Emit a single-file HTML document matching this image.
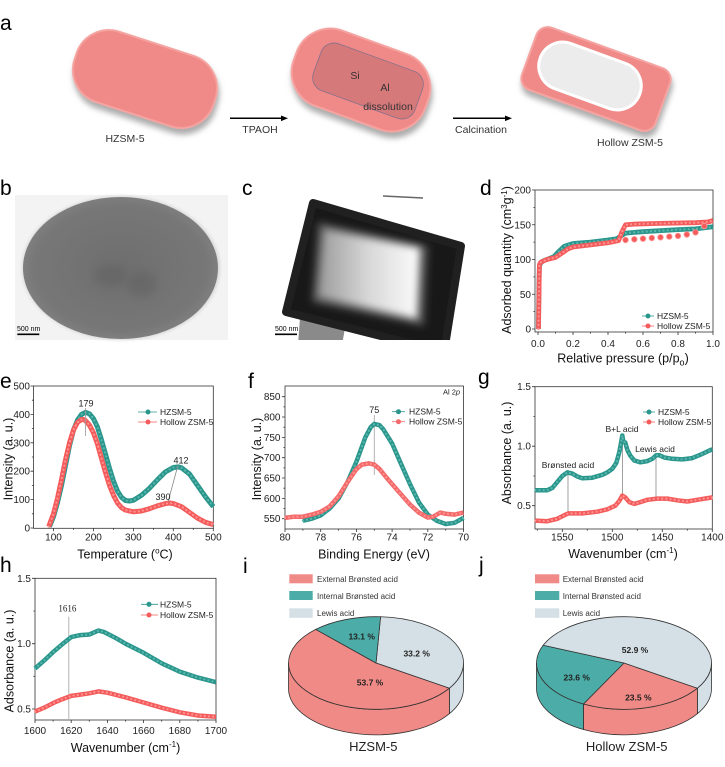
<!DOCTYPE html>
<html><head><meta charset="utf-8">
<style>
html,body{margin:0;padding:0;background:#fff;}
body{width:725px;height:767px;overflow:hidden;}
svg{display:block;font-family:"Liberation Sans",Arial,sans-serif;}
.tl{fill:none;stroke:#2a968c;stroke-width:4.8;stroke-linejoin:round;}
.rl{fill:none;stroke:#f45c5c;stroke-width:4.8;stroke-linejoin:round;}
.tb{fill:none;stroke:#5cb8ae;stroke-width:2.2;stroke-dasharray:0 4.2;stroke-linecap:round;}
.rb{fill:none;stroke:#ff9494;stroke-width:2.2;stroke-dasharray:0 4.2;stroke-linecap:round;}
</style></head>
<body>
<svg width="725" height="767" viewBox="0 0 725 767" xmlns="http://www.w3.org/2000/svg" xmlns:xlink="http://www.w3.org/1999/xlink">
<defs>
 <filter id="sh" x="-20%" y="-20%" width="150%" height="160%">
  <feDropShadow dx="3" dy="5" stdDeviation="3" flood-color="#666" flood-opacity="0.55"/>
 </filter>
 <filter id="bl" x="-30%" y="-30%" width="160%" height="160%"><feGaussianBlur stdDeviation="4"/></filter>
 <filter id="bl2" x="-30%" y="-30%" width="160%" height="160%"><feGaussianBlur stdDeviation="1.5"/></filter>
 <radialGradient id="gb" cx="50%" cy="50%" r="55%">
  <stop offset="0" stop-color="#6e6e6e"/><stop offset="0.8" stop-color="#777"/><stop offset="1" stop-color="#858585"/>
 </radialGradient>
 <linearGradient id="gc" x1="0" y1="0" x2="1" y2="0">
  <stop offset="0" stop-color="#9a9a9a"/><stop offset="0.5" stop-color="#d8d8d8"/><stop offset="1" stop-color="#fcfcfc"/>
 </linearGradient>
 <clipPath id="cc"><rect x="277" y="195" width="190" height="145"/></clipPath>
 <polyline id="d1" points="538.5,329 538.9,287.3 539.4,266.5 540.6,263 543.3,260.9 548.5,258.8 553.8,256.7 559,251.2 564.3,246.3 573,243.5 590.5,242.1 608,240 616.8,238.7 622,235.2 625.5,233.1 643,231.7 678,229.6 695.5,228.9 713,226.8"/>
 <polyline id="d2" points="538.5,329 539.4,265 540.6,262.3 546.8,259.5 555.5,257.4 560.8,253.9 567.8,249 573,247 590.5,244.9 608,242.8 618.5,240.7 622,231.7 625.5,224.8 634.3,224.1 660.5,223.4 695.5,222.7 707.8,222 713,220.6"/>
 <polyline id="e1" points="49.5,526.6 53.5,516.6 57.5,502.4 61.5,485.4 65.5,465.5 69.5,445.6 73.5,430 77.5,420.1 81.5,414.4 85.5,412.4 89.5,413.8 93.5,418.7 97.5,427.2 101.5,440 105.5,454.2 109.5,468.4 113.5,481.1 117.5,491.1 121.5,497.3 125.5,500.5 129.5,501 133.5,500.2 141.5,495.3 149.5,488.2 157.5,479.7 165.5,471.8 173.5,467.5 178.3,466.9 181.5,467.8 189.5,474 197.5,485.4 205.5,496.8 213.3,506.7"/>
 <polyline id="e2" points="48.7,526.6 53.5,513.8 57.5,498.2 61.5,479.7 65.5,459.8 69.5,442.8 73.5,430 77.5,422.4 81.5,419.5 83.5,419.5 85.5,420.6 89.5,425.2 93.5,432.9 97.5,444.2 101.5,458.4 105.5,472.6 109.5,485.4 113.5,495.3 117.5,503 121.5,507.6 125.5,510.1 133.5,511.8 141.5,511 149.5,508.7 157.5,505.8 165.5,503.6 169.5,503 173.5,503.6 181.5,506.7 189.5,512.4 197.5,518.1 205.5,522.3 213.3,524.6"/>
 <polyline id="f1" points="302.9,520.7 311.8,518.7 320.7,515.4 329.6,508.5 338.6,498.4 347.5,482.1 356.4,461.8 365.3,437.4 370.7,427.2 374.3,423.9 379.6,425.2 383.2,429.2 392.1,443.5 401,463.8 410,484.1 418.9,502.4 427.8,514.6 436.7,520.7 445.7,524 454.6,522.8 463.5,517.9"/>
 <polyline id="f2" points="285,517.9 293.9,516.7 302.9,516.7 311.8,514.6 320.7,511.8 329.6,506.5 338.6,496.3 347.5,482.1 356.4,469.1 361.8,464.6 368.9,463.4 374.3,464.6 379.6,469.1 386.8,478 392.1,484.1 401,494.3 410,504.5 418.9,512.6 427.8,517.5 433.2,516.7 440.3,512.6 445.7,513.8 454.6,514.6 463.5,512.6"/>
 <polyline id="g1" points="535.3,490.2 547.3,490.2 552.3,487.9 557.3,481.9 562.3,476 567.3,472.4 572.3,473.6 577.3,476.5 582.3,478.3 592.3,477.7 602.3,474.8 607.3,472.4 612.3,468.8 616.3,462.9 619.3,452.2 621.3,441.4 622.3,435.5 623.3,441.4 625.3,442.6 627.3,449.8 630.3,455.7 634.3,460.5 640.3,462.3 647.3,461.1 652.3,458.8 656.3,455.2 659.3,455.2 664.3,457.5 672.3,458.8 682.3,459.4 692.3,458.1 702.3,453.9 712.3,449.2"/>
 <polyline id="g2" points="535.3,520.6 547.3,521.2 557.3,518.8 564.3,515.2 568.3,513.4 582.3,513.4 597.3,511.7 607.3,509.3 615.3,505.7 619.3,500.9 622.3,495.6 625.3,497.4 629.3,502.1 634.3,503.9 640.3,502.1 647.3,499.8 657.3,498.6 667.3,498.6 677.3,500.3 687.3,501.5 697.3,499.8 712.3,497.4"/>
 <polyline id="h1" points="35,668.5 44.1,660.6 53.1,652.1 62.2,644.3 71.2,637.1 80.3,635.1 89.3,634.5 98.4,630.6 103.8,631.9 116.5,638.4 125.5,643.7 143.6,652.8 161.7,663.3 179.8,671.7 197.9,677.6 216,682.2"/>
 <polyline id="h2" points="35,711.6 44.1,707.7 53.1,703.1 62.2,699.2 71.2,695.9 80.3,694.6 89.3,693.3 98.4,691.4 107.4,692.7 125.5,697.3 143.6,702.5 161.7,707.7 179.8,712.3 197.9,715.5 216,716.8"/>
</defs>
<rect width="725" height="767" fill="#fff"/>

<!-- ============ panel a ============ -->
<text x="0" y="30" font-size="21">a</text>
<rect x="-73" y="-37" width="146" height="74" rx="34" transform="translate(145,79) rotate(18)" fill="#f08a88" stroke="#f5a3a0" stroke-width="2" filter="url(#sh)"/>
<rect x="-70" y="-40" width="140" height="80" rx="36" transform="translate(361,80) rotate(20)" fill="#f08a88" stroke="#f5a3a0" stroke-width="2" filter="url(#sh)"/>
<rect x="-54" y="-25" width="108" height="50" rx="14" transform="translate(368,81) rotate(20)" fill="#d6797b" stroke="#86708a" stroke-width="0.8"/>
<rect x="-71" y="-33" width="142" height="66" rx="12" transform="translate(596,79) rotate(20)" fill="#f08a88" stroke="#f5a3a0" stroke-width="2" filter="url(#sh)"/>
<rect x="-53" y="-24" width="106" height="48" rx="24" transform="translate(590,76) rotate(20)" fill="#ececec" stroke="#fff" stroke-width="3"/>
<g font-size="10.5" fill="#333" text-anchor="middle">
 <text x="125" y="142">HZSM-5</text>
 <text x="260" y="133">TPAOH</text>
 <text x="481" y="133">Calcination</text>
 <text x="630" y="146">Hollow ZSM-5</text>
 <text x="355" y="79">Si</text>
 <text x="385" y="91">Al</text>
 <text x="388" y="110">dissolution</text>
</g>
<line x1="230" y1="118.3" x2="283" y2="118.3" stroke="#000" stroke-width="1.5"/>
<polygon points="288,118.3 281,115.5 281,121.1" fill="#000"/>
<line x1="453" y1="118.3" x2="507" y2="118.3" stroke="#000" stroke-width="1.5"/>
<polygon points="512,118.3 505,115.5 505,121.1" fill="#000"/>

<!-- ============ panel b ============ -->
<text x="0" y="195" font-size="21">b</text>
<rect x="15" y="195" width="213" height="145" fill="#f3f3f3"/>
<ellipse cx="121" cy="268" rx="99" ry="72" fill="#d8d8d8" filter="url(#bl2)"/>
<ellipse cx="120.5" cy="268" rx="97.5" ry="71" fill="url(#gb)"/>
<ellipse cx="110" cy="276" rx="16" ry="11" fill="#5f5f5f" opacity="0.45" filter="url(#bl)"/>
<ellipse cx="142" cy="284" rx="15" ry="13" fill="#5f5f5f" opacity="0.45" filter="url(#bl)"/>
<text x="17" y="331" font-size="7" fill="#000">500 nm</text>
<line x1="17.3" y1="334.3" x2="39.3" y2="334.3" stroke="#000" stroke-width="1.6"/>

<!-- ============ panel c ============ -->
<text x="242" y="195" font-size="21">c</text>
<g clip-path="url(#cc)">
 <rect x="277" y="195" width="190" height="145" fill="#fff"/>
 <polygon points="300,318 345,328 342,345 298,345" fill="#8a8a8a"/>
 <polygon points="313,203 461,246 444,352 286,312" fill="#181818" stroke="#202020" stroke-width="8" stroke-linejoin="round"/>
 <polygon points="318,222 428,246 424,326 312,302" fill="#555" filter="url(#bl)"/>
 <polygon points="324,229 420,248 417,319 318,297" fill="url(#gc)" filter="url(#bl)"/>
 <line x1="383" y1="196" x2="423" y2="198" stroke="#666" stroke-width="1.5"/>
</g>
<text x="275" y="331" font-size="7" fill="#000">500 nm</text>
<line x1="275" y1="334.3" x2="297" y2="334.3" stroke="#000" stroke-width="1.6"/>

<!-- ============ panel d ============ -->
<text x="480" y="195" font-size="21">d</text>
<g stroke="#333" stroke-width="0.8" fill="none">
 <rect x="535" y="190" width="178" height="142"/>
 <path d="M535 329h-3M535 294.25h-3M535 259.5h-3M535 224.75h-3M535 190h-3M535 311.6h-1.6M535 276.9h-1.6M535 242.1h-1.6M535 207.4h-1.6"/>
 <path d="M538 332v3M573 332v3M608 332v3M643 332v3M678 332v3M713 332v3M555.5 332v1.6M590.5 332v1.6M625.5 332v1.6M660.5 332v1.6M695.5 332v1.6"/>
</g>
<g font-size="10" fill="#222" text-anchor="end">
 <text x="531" y="332.5">0</text><text x="531" y="297.8">50</text><text x="531" y="263">100</text><text x="531" y="228.3">150</text><text x="531" y="193.5">200</text>
</g>
<g font-size="10" fill="#222" text-anchor="middle">
 <text x="538" y="347">0.0</text><text x="573" y="347">0.2</text><text x="608" y="347">0.4</text><text x="643" y="347">0.6</text><text x="678" y="347">0.8</text><text x="713" y="347">1.0</text>
</g>
<text x="623" y="362.5" font-size="12.5" text-anchor="middle" fill="#111">Relative pressure (p/p<tspan font-size="9" dy="3">o</tspan><tspan dy="-3">)</tspan></text>
<text transform="translate(511,260) rotate(-90)" font-size="12.5" text-anchor="middle" fill="#111">Adsorbed quantity (cm<tspan font-size="8" dy="-4">3</tspan><tspan dy="4">g</tspan><tspan font-size="8" dy="-4">-1</tspan><tspan dy="4">)</tspan></text>
<use xlink:href="#d1" class="tl"/><use xlink:href="#d1" class="tb"/>
<use xlink:href="#d2" class="rl"/><use xlink:href="#d2" class="rb"/>
<g fill="#f45c5c" stroke="#ff9a9a" stroke-width="0.8">
 <circle cx="625.5" cy="240" r="2.8"/><circle cx="634.3" cy="239.3" r="2.8"/><circle cx="643" cy="238.7" r="2.8"/><circle cx="651.8" cy="238" r="2.8"/><circle cx="660.5" cy="237.3" r="2.8"/><circle cx="669.3" cy="236.6" r="2.8"/><circle cx="678" cy="235.9" r="2.8"/><circle cx="686.8" cy="234.5" r="2.8"/><circle cx="695.5" cy="232.4" r="2.8"/><circle cx="704.3" cy="226.1" r="2.8"/>
</g>
<line x1="642" y1="316" x2="654" y2="316" stroke="#2a968c" stroke-width="0.8"/><circle cx="648" cy="316" r="2.5" fill="#2a968c"/>
<line x1="642" y1="326" x2="654" y2="326" stroke="#f45c5c" stroke-width="0.8"/><circle cx="648" cy="326" r="2.5" fill="#f45c5c"/>
<text x="657" y="319" font-size="8.5" fill="#222">HZSM-5</text>
<text x="657" y="329" font-size="8.5" fill="#222">Hollow ZSM-5</text>

<!-- ============ panel e ============ -->
<text x="0" y="388" font-size="21">e</text>
<g stroke="#333" stroke-width="0.8" fill="none">
 <rect x="33.5" y="386" width="179.8" height="142.3"/>
 <path d="M33.5 528h-3M33.5 499.6h-3M33.5 471.2h-3M33.5 442.8h-3M33.5 414.4h-3M33.5 386h-3M33.5 513.8h-1.6M33.5 485.4h-1.6M33.5 457h-1.6M33.5 428.6h-1.6M33.5 400.2h-1.6"/>
 <path d="M53.5 528.3v3M93.5 528.3v3M133.4 528.3v3M173.3 528.3v3M213.3 528.3v3M73.5 528.3v1.6M113.5 528.3v1.6M153.4 528.3v1.6M193.3 528.3v1.6"/>
</g>
<g font-size="10" fill="#222" text-anchor="end">
 <text x="30" y="531.5">0</text><text x="30" y="503.1">100</text><text x="30" y="474.7">200</text><text x="30" y="446.3">300</text><text x="30" y="417.9">400</text><text x="30" y="389.5">500</text>
</g>
<g font-size="10" fill="#222" text-anchor="middle">
 <text x="53.5" y="540.5">100</text><text x="93.5" y="540.5">200</text><text x="133.4" y="540.5">300</text><text x="173.3" y="540.5">400</text><text x="213.3" y="540.5">500</text>
</g>
<text x="125" y="558.5" font-size="12.5" text-anchor="middle" fill="#111">Temperature (<tspan font-size="8" dy="-5">o</tspan><tspan dy="5">C)</tspan></text>
<text transform="translate(12.5,459) rotate(-90)" font-size="12.5" text-anchor="middle" fill="#111">Intensity (a. u.)</text>
<use xlink:href="#e1" class="tl" style="stroke-width:5"/><use xlink:href="#e1" class="tb"/>
<use xlink:href="#e2" class="rl" style="stroke-width:5"/><use xlink:href="#e2" class="rb"/>
<line x1="85.5" y1="408" x2="85.5" y2="436" stroke="#999" stroke-width="0.8"/>
<line x1="178" y1="465" x2="168" y2="502" stroke="#888" stroke-width="0.8"/>
<g font-size="9" fill="#222" text-anchor="middle">
 <text x="86" y="406.5">179</text><text x="181" y="463.5">412</text><text x="163" y="500">390</text>
</g>
<line x1="138" y1="412" x2="157" y2="412" stroke="#2a968c" stroke-width="0.8"/><circle cx="148" cy="412" r="2.5" fill="#2a968c"/>
<line x1="138" y1="422" x2="157" y2="422" stroke="#f45c5c" stroke-width="0.8"/><circle cx="148" cy="422" r="2.5" fill="#f45c5c"/>
<text x="160" y="415" font-size="8.5" fill="#222">HZSM-5</text>
<text x="160" y="425" font-size="8.5" fill="#222">Hollow ZSM-5</text>

<!-- ============ panel f ============ -->
<text x="248" y="388" font-size="21">f</text>
<g stroke="#333" stroke-width="0.8" fill="none">
 <rect x="285" y="386" width="178.5" height="143"/>
 <path d="M285 518.7h-3M285 498.4h-3M285 478h-3M285 457.7h-3M285 437.4h-3M285 417h-3M285 396.7h-3M285 508.5h-1.6M285 488.2h-1.6M285 467.9h-1.6M285 447.5h-1.6M285 427.2h-1.6M285 406.9h-1.6"/>
 <path d="M285 529v3M320.7 529v3M356.4 529v3M392.1 529v3M427.8 529v3M463.5 529v3M302.9 529v1.6M338.6 529v1.6M374.3 529v1.6M410 529v1.6M445.7 529v1.6"/>
</g>
<g font-size="10" fill="#222" text-anchor="end">
 <text x="280.5" y="522.2">550</text><text x="280.5" y="501.9">600</text><text x="280.5" y="481.5">650</text><text x="280.5" y="461.2">700</text><text x="280.5" y="440.9">750</text><text x="280.5" y="420.5">800</text><text x="280.5" y="400.2">850</text>
</g>
<g font-size="10" fill="#222" text-anchor="middle">
 <text x="285" y="540.5">80</text><text x="320.7" y="540.5">78</text><text x="356.4" y="540.5">76</text><text x="392.1" y="540.5">74</text><text x="427.8" y="540.5">72</text><text x="463.5" y="540.5">70</text>
</g>
<text x="374" y="558.5" font-size="12.5" text-anchor="middle" fill="#111">Binding Energy (eV)</text>
<text transform="translate(261,459) rotate(-90)" font-size="12.5" text-anchor="middle" fill="#111">Intensity (a. u.)</text>
<line x1="374.3" y1="415" x2="374.3" y2="475" stroke="#aaa" stroke-width="0.9"/>
<use xlink:href="#f1" class="tl" style="stroke-width:4.5"/><use xlink:href="#f1" class="tb"/>
<use xlink:href="#f2" class="rl" style="stroke-width:4.5;stroke:#f46a6a"/><use xlink:href="#f2" class="rb"/>
<text x="374.3" y="413" font-size="9" fill="#222" text-anchor="middle">75</text>
<text x="451.5" y="394.5" font-size="7.5" fill="#222" text-anchor="middle">Al 2<tspan font-style="italic">p</tspan></text>
<line x1="392" y1="411.7" x2="405" y2="411.7" stroke="#2a968c" stroke-width="0.8"/><circle cx="398.5" cy="411.7" r="2.5" fill="#2a968c"/>
<line x1="392" y1="421.7" x2="405" y2="421.7" stroke="#f46a6a" stroke-width="0.8"/><circle cx="398.5" cy="421.7" r="2.5" fill="#f46a6a"/>
<text x="409" y="414.7" font-size="8.5" fill="#222">HZSM-5</text>
<text x="409" y="424.7" font-size="8.5" fill="#222">Hollow ZSM-5</text>

<!-- ============ panel g ============ -->
<text x="478" y="384" font-size="21">g</text>
<g stroke="#333" stroke-width="0.8" fill="none">
 <rect x="535" y="386.7" width="177.3" height="142.3"/>
 <path d="M535 505.7h-3M535 446.2h-3M535 386.7h-3M535 476h-1.6M535 416.5h-1.6"/>
 <path d="M562.3 529v3M612.3 529v3M662.3 529v3M712.3 529v3M537.3 529v1.6M587.3 529v1.6M637.3 529v1.6M687.3 529v1.6"/>
</g>
<g font-size="10" fill="#222" text-anchor="end">
 <text x="531" y="509.2">0.5</text><text x="531" y="449.7">1.0</text><text x="531" y="390.2">1.5</text>
</g>
<g font-size="10" fill="#222" text-anchor="middle">
 <text x="562.3" y="540.5">1550</text><text x="612.3" y="540.5">1500</text><text x="662.3" y="540.5">1450</text><text x="712.3" y="540.5">1400</text>
</g>
<text x="623" y="558" font-size="12.5" text-anchor="middle" fill="#111">Wavenumber (cm<tspan font-size="8" dy="-5">-1</tspan><tspan dy="5">)</tspan></text>
<text transform="translate(511,453) rotate(-90)" font-size="12.5" text-anchor="middle" fill="#111">Absorbance (a. u.)</text>
<g stroke="#888" stroke-width="0.8">
 <line x1="568" y1="470" x2="568" y2="513"/><line x1="622.5" y1="435" x2="622.5" y2="494"/><line x1="656" y1="454" x2="656" y2="497"/>
</g>
<use xlink:href="#g1" class="tl" style="stroke-width:4.5"/><use xlink:href="#g1" class="tb"/>
<use xlink:href="#g2" class="rl" style="stroke-width:4.5"/><use xlink:href="#g2" class="rb"/>
<g font-size="8.5" fill="#222" text-anchor="middle">
 <text x="568" y="468">Brønsted acid</text><text x="622" y="432">B+L acid</text><text x="655" y="452">Lewis acid</text>
</g>
<line x1="643" y1="412" x2="655" y2="412" stroke="#2a968c" stroke-width="0.8"/><circle cx="649" cy="412" r="2.5" fill="#2a968c"/>
<line x1="643" y1="422" x2="655" y2="422" stroke="#f45c5c" stroke-width="0.8"/><circle cx="649" cy="422" r="2.5" fill="#f45c5c"/>
<text x="658" y="415" font-size="8.5" fill="#222">HZSM-5</text>
<text x="658" y="425" font-size="8.5" fill="#222">Hollow ZSM-5</text>

<!-- ============ panel h ============ -->
<text x="0" y="572" font-size="21">h</text>
<g stroke="#333" stroke-width="0.8" fill="none">
 <rect x="35" y="578.3" width="181" height="141.7"/>
 <path d="M35 709h-3M35 643.7h-3M35 578.3h-3M35 676.3h-1.6M35 611h-1.6"/>
 <path d="M35 720v3M71.2 720v3M107.4 720v3M143.6 720v3M179.8 720v3M216 720v3M53.1 720v1.6M89.3 720v1.6M125.5 720v1.6M161.7 720v1.6M197.9 720v1.6"/>
</g>
<g font-size="10" fill="#222" text-anchor="end">
 <text x="31" y="712.5">0.5</text><text x="31" y="647.2">1.0</text><text x="31" y="581.8">1.5</text>
</g>
<g font-size="10" fill="#222" text-anchor="middle">
 <text x="35" y="734">1600</text><text x="71.2" y="734">1620</text><text x="107.4" y="734">1640</text><text x="143.6" y="734">1660</text><text x="179.8" y="734">1680</text><text x="216" y="734">1700</text>
</g>
<text x="125.5" y="752" font-size="12.5" text-anchor="middle" fill="#111">Wavenumber (cm<tspan font-size="8" dy="-5">-1</tspan><tspan dy="5">)</tspan></text>
<text transform="translate(13.5,661) rotate(-90)" font-size="12.5" text-anchor="middle" fill="#111">Adsorbance (a. u.)</text>
<line x1="68.8" y1="616.7" x2="68.8" y2="720" stroke="#aaa" stroke-width="0.9"/>
<text x="67.4" y="611.5" font-size="9" fill="#222" text-anchor="middle" font-family="Liberation Serif,serif">1616</text>
<use xlink:href="#h1" class="tl" style="stroke-width:4.5"/><use xlink:href="#h1" class="tb"/>
<use xlink:href="#h2" class="rl" style="stroke-width:4.5"/><use xlink:href="#h2" class="rb"/>
<line x1="141" y1="604.3" x2="158" y2="604.3" stroke="#2a968c" stroke-width="0.8"/><circle cx="149" cy="604.3" r="2.5" fill="#2a968c"/>
<line x1="141" y1="615" x2="158" y2="615" stroke="#f45c5c" stroke-width="0.8"/><circle cx="149" cy="615" r="2.5" fill="#f45c5c"/>
<text x="160" y="607.3" font-size="8.5" fill="#222">HZSM-5</text>
<text x="160" y="618" font-size="8.5" fill="#222">Hollow ZSM-5</text>

<!-- ============ panel i ============ -->
<text x="243" y="573" font-size="21">i</text>
<rect x="289.3" y="574.3" width="23.4" height="9" fill="#f08a86"/>
<rect x="289.3" y="591" width="23.4" height="9" fill="#4cada8"/>
<rect x="289.3" y="608.3" width="23.4" height="9.5" fill="#d5e0e6"/>
<g font-size="8" fill="#333">
 <text x="317" y="582">External Brønsted acid</text><text x="317" y="599">Internal Brønsted acid</text><text x="317" y="616">Lewis acid</text>
</g>
<g transform="translate(376,663) scale(1,0.5291)" stroke="#333" stroke-width="0.8">
 <path vector-effect="non-scaling-stroke" fill="#d5e0e6" d="M87.5 0 A87.5 87.5 0 0 1 73.39 47.65 L73.39 95.85 A87.5 87.5 0 0 0 87.5 48.2 Z"/>
 <path vector-effect="non-scaling-stroke" fill="#f08a86" d="M73.39 47.65 A87.5 87.5 0 0 1 -87.5 0 L-87.5 48.2 A87.5 87.5 0 0 0 73.39 95.85 Z"/>
 <path vector-effect="non-scaling-stroke" fill="#d5e0e6" d="M0 0 L4.58 -87.38 A87.5 87.5 0 0 1 73.39 47.65 Z"/>
 <path vector-effect="non-scaling-stroke" fill="#f08a86" d="M0 0 L73.39 47.65 A87.5 87.5 0 1 1 -60.24 -63.47 Z"/>
 <path vector-effect="non-scaling-stroke" fill="#4cada8" d="M0 0 L-60.24 -63.47 A87.5 87.5 0 0 1 4.58 -87.38 Z"/>
</g>
<g font-size="8.5" font-weight="bold" fill="#222" text-anchor="middle">
 <text x="361.7" y="639.7">13.1 %</text><text x="416.7" y="656.3">33.2 %</text><text x="370" y="685.3">53.7 %</text>
</g>
<text x="373.3" y="751" font-size="13" fill="#222" text-anchor="middle">HZSM-5</text>

<!-- ============ panel j ============ -->
<text x="479" y="572" font-size="21">j</text>
<rect x="535" y="574.3" width="24.3" height="9" fill="#f08a86"/>
<rect x="535" y="591" width="24.3" height="9" fill="#4cada8"/>
<rect x="535" y="608.3" width="24.3" height="9.5" fill="#d5e0e6"/>
<g font-size="8" fill="#333">
 <text x="562.7" y="582">External Brønsted acid</text><text x="562.7" y="599">Internal Brønsted acid</text><text x="562.7" y="616">Lewis acid</text>
</g>
<g transform="translate(624,663) scale(1,0.5291)" stroke="#333" stroke-width="0.8">
 <path vector-effect="non-scaling-stroke" fill="#d5e0e6" d="M87.5 0 A87.5 87.5 0 0 1 73.39 47.65 L73.39 95.85 A87.5 87.5 0 0 0 87.5 48.2 Z"/>
 <path vector-effect="non-scaling-stroke" fill="#f08a86" d="M73.39 47.65 A87.5 87.5 0 0 1 -40.54 77.54 L-40.54 125.74 A87.5 87.5 0 0 0 73.39 95.85 Z"/>
 <path vector-effect="non-scaling-stroke" fill="#4cada8" d="M-40.54 77.54 A87.5 87.5 0 0 1 -87.5 0 L-87.5 48.2 A87.5 87.5 0 0 0 -40.54 125.74 Z"/>
 <path vector-effect="non-scaling-stroke" fill="#f08a86" d="M0 0 L73.39 47.65 A87.5 87.5 0 0 1 -40.54 77.54 Z"/>
 <path vector-effect="non-scaling-stroke" fill="#4cada8" d="M0 0 L-40.54 77.54 A87.5 87.5 0 0 1 -80.78 -33.63 Z"/>
 <path vector-effect="non-scaling-stroke" fill="#d5e0e6" d="M0 0 L-80.78 -33.63 A87.5 87.5 0 1 1 73.39 47.65 Z"/>
</g>
<g font-size="8.5" font-weight="bold" fill="#222" text-anchor="middle">
 <text x="635" y="653">52.9 %</text><text x="576.7" y="680.7">23.6 %</text><text x="638.3" y="700.7">23.5 %</text>
</g>
<text x="626.7" y="751" font-size="13" fill="#222" text-anchor="middle">Hollow ZSM-5</text>
</svg>
</body></html>
